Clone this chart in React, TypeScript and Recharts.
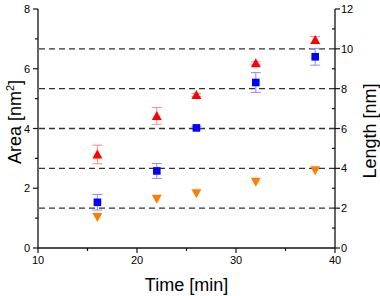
import React from 'react';
import { ComposedChart, Scatter, XAxis, YAxis, ReferenceLine, ErrorBar } from 'recharts';

// Sampling times in minutes
const times = [16, 22, 26, 32, 38];

// Area series (nm²) with their standard deviations
const areaUp = [3.13, 4.42, 5.12, 6.18, 6.96];
const areaUpErr = [0.31, 0.28, 0.05, 0.05, 0.12];
const areaSquare = [1.53, 2.58, 4.02, 5.54, 6.4];
const areaSquareErr = [0.26, 0.25, 0.05, 0.33, 0.28];
const areaDown = [1.04, 1.65, 1.83, 2.22, 2.6];

// Axis ticks
const xTicks = [10, 15, 20, 25, 30, 35, 40];
const areaTicks = [0, 1, 2, 3, 4, 5, 6, 7, 8];
const lengthTicks = [0, 1, 2, 3, 4, 5, 6, 7, 8, 9, 10, 11, 12];
// Reference lengths (nm) drawn as dashed guides
const lengthLevels = [2, 4, 6, 8, 10];

const upData = times.map((t, i) => ({ t, v: areaUp[i], e: areaUpErr[i] }));
const squareData = times.map((t, i) => ({ t, v: areaSquare[i], e: areaSquareErr[i] }));
const downData = times.map((t, i) => ({ t, v: areaDown[i] }));

const FONT = '"Liberation Sans", Arial, sans-serif';
const AX = '#111';

const BottomTick = (p: any) => {
  const { x, y, payload } = p;
  const major = payload.value % 10 === 0;
  return (
    <g>
      <line x1={x} x2={x} y1={y} y2={y + (major ? 5 : 3)} stroke={AX} strokeWidth={1.2} />
      {major && (
        <text x={x} y={y + 16} textAnchor="middle" fontSize={11} fontFamily={FONT} fill="#000">
          {payload.value}
        </text>
      )}
    </g>
  );
};

const TopTick = (p: any) => {
  const { x, y, payload } = p;
  if (payload.value === 10 || payload.value === 40) return <g />;
  const major = payload.value % 10 === 0;
  return <line x1={x} x2={x} y1={y} y2={y + (major ? 4 : 3)} stroke={AX} strokeWidth={1.2} />;
};

const LeftTick = (p: any) => {
  const { x, y, payload } = p;
  const major = payload.value % 2 === 0;
  return (
    <g>
      <line x1={x - (major ? 5 : 3)} x2={x} y1={y} y2={y} stroke={AX} strokeWidth={1.2} />
      {major && (
        <text x={x - 8} y={y + 4} textAnchor="end" fontSize={11} fontFamily={FONT} fill="#000">
          {payload.value}
        </text>
      )}
    </g>
  );
};

const RightTick = (p: any) => {
  const { x, y, payload } = p;
  const major = payload.value % 2 === 0;
  return (
    <g>
      {major ? (
        <line x1={x} x2={x + 5} y1={y} y2={y} stroke={AX} strokeWidth={1.2} />
      ) : (
        <line x1={x - 3} x2={x} y1={y} y2={y} stroke={AX} strokeWidth={1.2} />
      )}
      {major && (
        <text x={x + 6} y={y + 4} textAnchor="start" fontSize={11} fontFamily={FONT} fill="#000">
          {payload.value}
        </text>
      )}
    </g>
  );
};

const UpTriangle = (p: any) => {
  const { cx, cy } = p;
  return <polygon points={`${cx},${cy - 5} ${cx - 5},${cy + 4} ${cx + 5},${cy + 4}`} fill="#ff0000" />;
};

const Square = (p: any) => {
  const { cx, cy } = p;
  return <rect x={cx - 3.8} y={cy - 3.8} width={7.6} height={7.6} fill="#0000ff" />;
};

const DownTriangle = (p: any) => {
  const { cx, cy } = p;
  return <polygon points={`${cx - 5},${cy - 4} ${cx + 5},${cy - 4} ${cx},${cy + 5}`} fill="#ff7f00" />;
};

export default function App() {
  return (
    <div style={{ position: 'absolute', left: 0, top: 0, width: 380, height: 296, background: '#fff' }}>
      <ComposedChart width={380} height={296} margin={{ top: 9, right: 0, bottom: 0, left: 0 }}>
        <XAxis
          xAxisId={0}
          dataKey="t"
          type="number"
          domain={[10, 40]}
          ticks={xTicks}
          interval={0}
          height={48}
          tickSize={0}
          tickMargin={0}
          tick={<BottomTick />}
          tickLine={false}
          axisLine={{ stroke: AX, strokeWidth: 1.3 }}
          allowDataOverflow
        />
        <XAxis
          xAxisId="top"
          orientation="top"
          type="number"
          domain={[10, 40]}
          ticks={xTicks}
          interval={0}
          height={0}
          tickSize={0}
          tickMargin={0}
          tick={<TopTick />}
          tickLine={false}
          axisLine={{ stroke: AX, strokeWidth: 1.3 }}
          allowDataOverflow
        />
        <YAxis
          yAxisId={0}
          dataKey="v"
          type="number"
          domain={[0, 8]}
          ticks={areaTicks}
          interval={0}
          width={38}
          tickSize={0}
          tickMargin={0}
          tick={<LeftTick />}
          tickLine={false}
          axisLine={{ stroke: AX, strokeWidth: 1.3 }}
          allowDataOverflow
        />
        <YAxis
          yAxisId="len"
          orientation="right"
          type="number"
          domain={[0, 12]}
          ticks={lengthTicks}
          interval={0}
          width={45}
          tickSize={0}
          tickMargin={0}
          tick={<RightTick />}
          tickLine={false}
          axisLine={{ stroke: AX, strokeWidth: 1.3 }}
          allowDataOverflow
        />
        {lengthLevels.map((l) => (
          <ReferenceLine
            key={l}
            yAxisId="len"
            y={l}
            stroke="#333"
            strokeWidth={1.3}
            strokeDasharray="6 4"
          />
        ))}
        <Scatter data={upData} dataKey="v" shape={<UpTriangle />} isAnimationActive={false}>
          <ErrorBar dataKey="e" direction="y" width={5} stroke="#ff8a8a" strokeWidth={1} isAnimationActive={false} />
        </Scatter>
        <Scatter data={squareData} dataKey="v" shape={<Square />} isAnimationActive={false}>
          <ErrorBar dataKey="e" direction="y" width={5} stroke="#8a8aff" strokeWidth={1} isAnimationActive={false} />
        </Scatter>
        <Scatter data={downData} dataKey="v" shape={<DownTriangle />} isAnimationActive={false} />
      </ComposedChart>
      <svg
        width={380}
        height={296}
        style={{ position: 'absolute', left: 0, top: 0, pointerEvents: 'none' }}
      >
        <text x={186.5} y={291} textAnchor="middle" fontSize={18} fontFamily={FONT} fill="#000">
          Time [min]
        </text>
        <text
          x={0}
          y={0}
          transform="translate(21,122) rotate(-90)"
          textAnchor="middle"
          fontSize={18}
          fontFamily={FONT}
          fill="#000"
        >
          Area [nm<tspan fontSize={11} dy={-7}>2</tspan>
          <tspan dy={7}>]</tspan>
        </text>
        <text
          x={0}
          y={0}
          transform="translate(376,131) rotate(-90)"
          textAnchor="middle"
          fontSize={18}
          fontFamily={FONT}
          fill="#000"
        >
          Length [nm]
        </text>
      </svg>
    </div>
  );
}
